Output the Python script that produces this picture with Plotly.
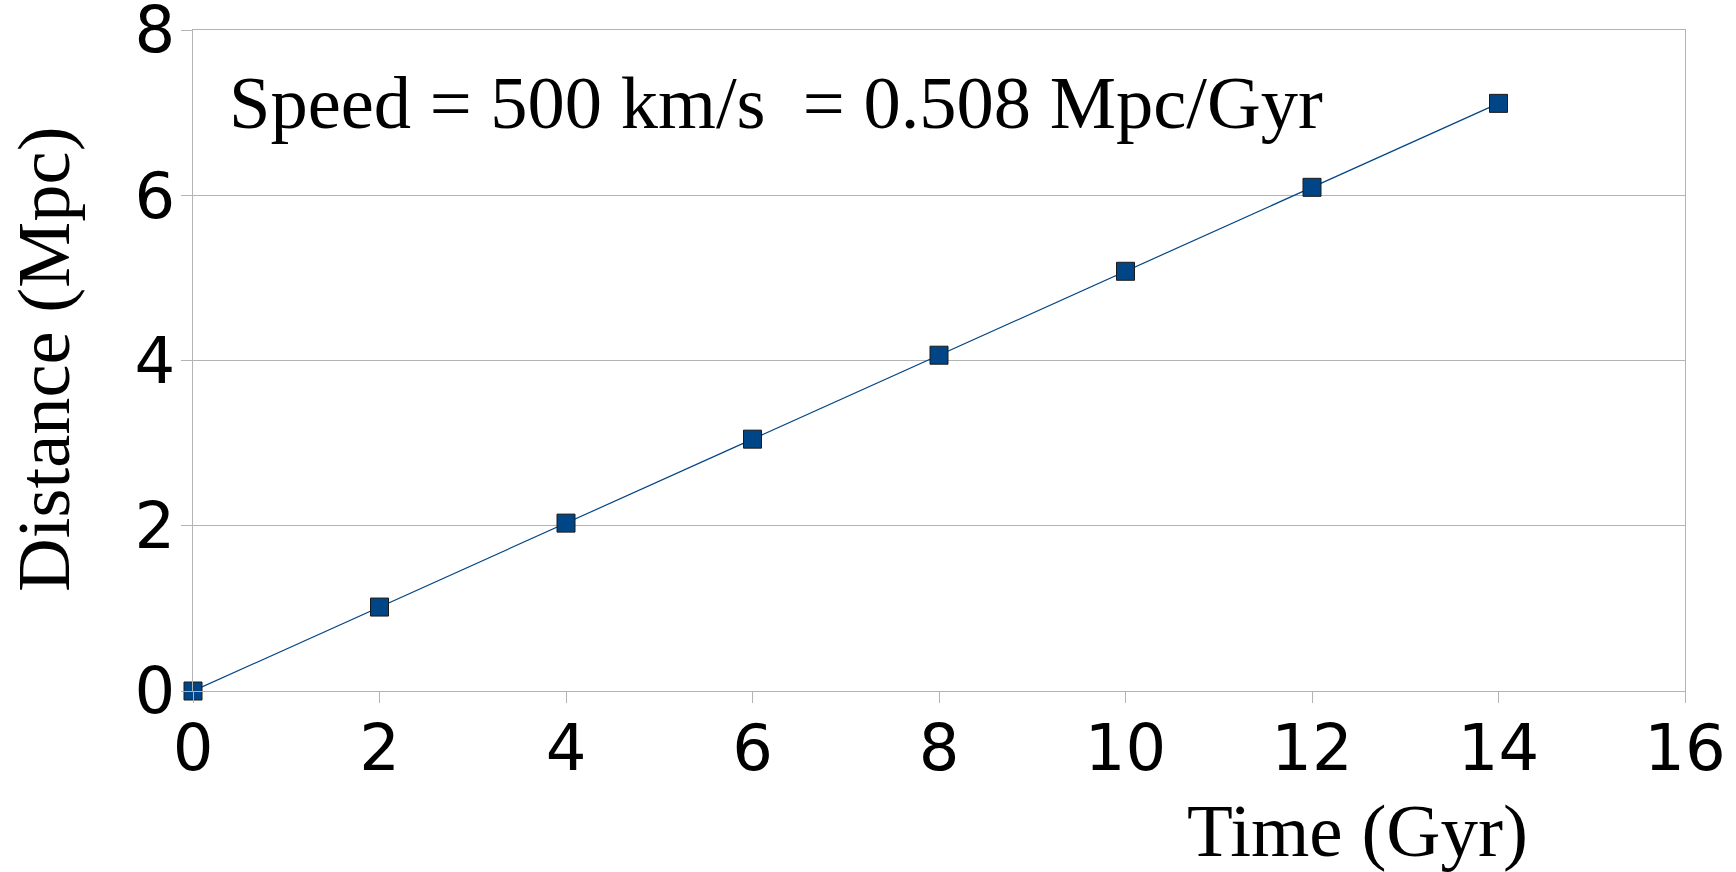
import plotly.graph_objects as go

time_gyr = [0, 2, 4, 6, 8, 10, 12, 14]
distance_mpc = [0, 1.016, 2.032, 3.048, 4.064, 5.08, 6.096, 7.112]
x_ticks = [0, 2, 4, 6, 8, 10, 12, 14, 16]
y_ticks = [0, 2, 4, 6, 8]
x_title = "Time (Gyr)"
y_title = "Distance (Mpc)"
speed_text = "Speed = 500 km/s \u00a0= 0.508 Mpc/Gyr"

GRID = "#b3b3b3"
SERIF = "Liberation Serif, Times New Roman, serif"
SANS = "DejaVu Sans, sans-serif"

W, H = 1736, 872
ML, MR, MT, MB = 193, 51, 30, 181
pw = W - ML - MR
ph = H - MT - MB


def px_to_paper(px, py):
    return (px - ML) / pw, (H - MB - py) / ph


fig = go.Figure()
fig.add_trace(go.Scatter(
    x=time_gyr, y=distance_mpc, mode="lines+markers",
    line=dict(color="#004586", width=1.2),
    marker=dict(symbol="square", size=18, color="#004586",
                line=dict(color="#1a1a1a", width=1)),
    showlegend=False, cliponaxis=False,
))

xt = px_to_paper(1357, 830)
yt = px_to_paper(44, 360)
st = px_to_paper(227, 103)

fig.update_layout(
    width=W, height=H,
    margin=dict(l=ML, r=MR, t=MT, b=MB, pad=0, autoexpand=False),
    paper_bgcolor="white", plot_bgcolor="white",
    xaxis=dict(range=[0, 16], tickvals=x_ticks, showgrid=False,
               showline=True, linecolor=GRID, linewidth=1, mirror=True,
               ticks="outside", ticklen=11, tickcolor=GRID, tickwidth=1,
               ticklabelstandoff=-10, ticklabeloverflow="allow",
               automargin=False,
               tickfont=dict(family=SANS, size=64, color="black"),
               zeroline=False),
    yaxis=dict(range=[0, 8], tickvals=y_ticks, showgrid=True, gridcolor=GRID,
               gridwidth=1,
               showline=True, linecolor=GRID, linewidth=1, mirror=True,
               ticks="outside", ticklen=11, tickcolor=GRID, tickwidth=1,
               ticklabelstandoff=-7, ticklabeloverflow="allow",
               automargin=False,
               tickfont=dict(family=SANS, size=64, color="black"),
               zeroline=False),
    annotations=[
        dict(text=speed_text, x=st[0], y=st[1], xref="paper", yref="paper",
             xanchor="left", yanchor="middle", showarrow=False,
             font=dict(family=SERIF, size=74.5, color="black")),
        dict(text=x_title, x=xt[0], y=xt[1], xref="paper", yref="paper",
             xanchor="center", yanchor="middle", showarrow=False,
             font=dict(family=SERIF, size=75, color="black")),
        dict(text=y_title, textangle=-90, x=yt[0], y=yt[1],
             xref="paper", yref="paper", xanchor="center", yanchor="middle",
             showarrow=False,
             font=dict(family=SERIF, size=74.5, color="black")),
    ],
)

fig.write_html("out.html")
